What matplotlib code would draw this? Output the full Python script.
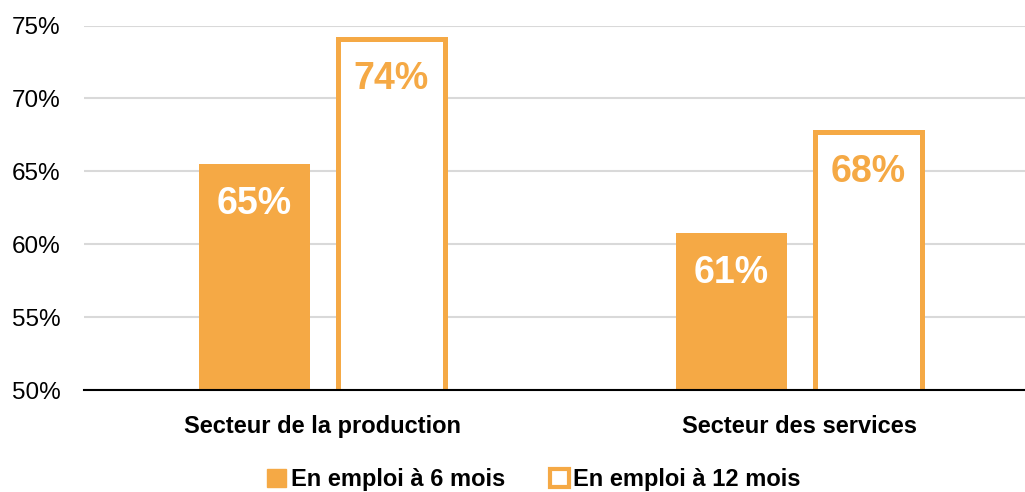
import matplotlib.pyplot as plt
import matplotlib.patches as mpatches
import numpy as np

# data
categories = ['Secteur de la production', 'Secteur des services']
emploi_6 = [65.5, 60.8]
emploi_12 = [74.1, 67.7]
labels_6 = ['65%', '61%']
labels_12 = ['74%', '68%']
series_names = ['En emploi à 6 mois', 'En emploi à 12 mois']
yticks = [50, 55, 60, 65, 70, 75]

orange = '#F5A945'
font = ['Liberation Sans', 'DejaVu Sans']
plt.rcParams['font.family'] = font

fig = plt.figure(figsize=(10.25, 4.92), dpi=100)
ax = fig.add_axes([0.082, 0.207, 0.918, 0.741])

x = np.arange(len(categories))
w = 0.233
off = 0.1435

b6 = ax.bar(x - off, emploi_6, width=w, color=orange, zorder=3)
b12 = ax.bar(x + off, emploi_12, width=w - 0.008, color='white', edgecolor=orange,
             linewidth=3.6, zorder=3)

for rect, lab in zip(b6, labels_6):
    ax.annotate(lab, (rect.get_x() + rect.get_width() / 2, rect.get_height()),
                xytext=(0, -16), textcoords='offset points', ha='center', va='top',
                color='white', fontsize=27, fontweight='bold', zorder=4)
for rect, lab in zip(b12, labels_12):
    ax.annotate(lab, (rect.get_x() + rect.get_width() / 2, rect.get_height()),
                xytext=(0, -16), textcoords='offset points', ha='center', va='top',
                color=orange, fontsize=27, fontweight='bold', zorder=4)

ax.set_ylim(50, 75)
ax.set_xlim(-0.501, 1.472)
ax.set_yticks(yticks)
ax.set_yticklabels([f'{t}%' for t in yticks], fontsize=17.5)
ax.set_xticks(x)
ax.set_xticklabels(categories, fontsize=17, fontweight='bold')
ax.tick_params(axis='both', length=0)
ax.tick_params(axis='y', pad=17)
ax.tick_params(axis='x', pad=18)

ax.grid(axis='y', color='#D9D9D9', linewidth=1.5, zorder=0)
for s in ['top', 'right', 'left']:
    ax.spines[s].set_visible(False)
ax.spines['bottom'].set_color('black')
ax.spines['bottom'].set_linewidth(1.5)
ax.spines['bottom'].set_zorder(5)

h1 = mpatches.Patch(facecolor=orange, edgecolor=orange)
h2 = mpatches.Patch(facecolor='white', edgecolor=orange, linewidth=3)
fig.legend([h1, h2], series_names, loc='lower center', bbox_to_anchor=(0.521, -0.042),
           ncol=2, frameon=False, handlelength=0.8, handleheight=0.8,
           handletextpad=0.2, columnspacing=1.9,
           prop={'size': 17, 'weight': 'bold'})

fig.savefig('out.png', dpi=100)
